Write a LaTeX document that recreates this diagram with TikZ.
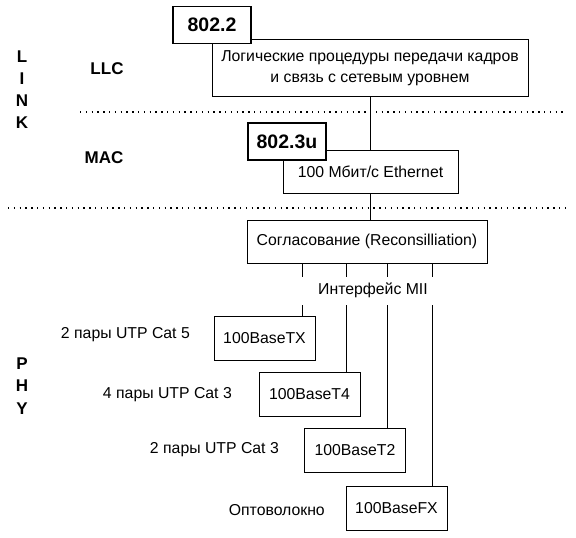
\documentclass[tikz,border=0pt]{standalone}
\usepackage{fontspec}
\setmainfont{Liberation Sans}
\begin{document}
\begin{tikzpicture}[x=1pt,y=-1pt,
  box/.style={draw,line width=0.9pt,fill=white,inner sep=0pt,
    font=\fontsize{15.8}{20.5}\selectfont,align=center},
  stdbox/.style={draw,line width=1.7pt,fill=white,inner sep=0pt,
    minimum width=78pt,minimum height=37pt,font=\bfseries\fontsize{19.5}{20}\selectfont},
  lbl/.style={inner sep=0pt,font=\fontsize{15.8}{20}\selectfont},
  blbl/.style={inner sep=0pt,font=\bfseries\fontsize{17}{20}\selectfont},
  dotline/.style={line width=1.3pt,dash pattern=on 1.3pt off 4.5pt},
  wire/.style={line width=0.9pt}]
\useasboundingbox (0,0) rectangle (576,538);

% layer letters
\node[blbl] (L) at (22,57) {L};
\node[blbl] (I) at (22,79) {I};
\node[blbl] (N) at (22,101) {N};
\node[blbl] (K) at (22,123) {K};
\node[blbl] (P) at (22,364) {P};
\node[blbl] (H) at (22,386) {H};
\node[blbl] (Y) at (22,409) {Y};

\node[blbl] (llclbl) at (107,69) {LLC};
\node[blbl] (maclbl) at (104,158) {MAC};

% dotted separators
\coordinate (d1a) at (80,112);
\coordinate (d1b) at (566,112);
\coordinate (d2a) at (8,208);
\coordinate (d2b) at (566,208);
\draw[dotline] (d1a) -- (d1b);
\draw[dotline] (d2a) -- (d2b);

% LLC
\node[box,minimum width=316pt,minimum height=57pt] (llc) at (370,68)
  {Логические процедуры передачи кадров\\и связь с сетевым уровнем};
\node[stdbox] (s8022) at (212,25) {802.2};

% MAC
\node[box,minimum width=175pt,minimum height=43pt] (eth) at (370.5,172) {100 Мбит/с Ethernet};
\node[stdbox] (s8023u) at (287,141.5) {802.3u};

% reconciliation
\node[box,minimum width=240pt,minimum height=43pt] (rec) at (367,241.5) {Согласование (Reconsilliation)};

\node[lbl] (mii) at (373,290) {Интерфейс MII};

% PHY boxes
\node[box,minimum width=101pt,minimum height=44pt] (tx) at (264.5,338) {100BaseTX};
\node[box,minimum width=101pt,minimum height=44pt] (t4) at (309.5,394) {100BaseT4};
\node[box,minimum width=101pt,minimum height=44pt] (t2) at (355,450) {100BaseT2};
\node[box,minimum width=101pt,minimum height=44pt] (fx) at (396.5,508.5) {100BaseFX};

\node[lbl,anchor=east] (c1) at (190,335) {2 пары UTP Cat 5};
\node[lbl,anchor=east] (c2) at (232,395) {4 пары UTP Cat 3};
\node[lbl,anchor=east] (c3) at (279,450) {2 пары UTP Cat 3};
\node[lbl,anchor=east] (c4) at (325,510) {Оптоволокно};

% connectors
\draw[wire] (eth.north |- llc.south) -- (eth.north);
\draw[wire] (eth.south) -- (eth.south |- rec.north);

\coordinate (m1) at (302,305);
\coordinate (m2) at (346,305);
\coordinate (m3) at (387,305);
\coordinate (m4) at (432,305);
\foreach \m in {m1,m2,m3,m4}{
  \draw[wire] (rec.south -| \m) -- ++(0,14);
}
\draw[wire] (m1) -- (tx.north -| m1);
\draw[wire] (m2) -- (t4.north -| m2);
\draw[wire] (m3) -- (t2.north -| m3);
\draw[wire] (m4) -- (fx.north -| m4);
\end{tikzpicture}
\end{document}
